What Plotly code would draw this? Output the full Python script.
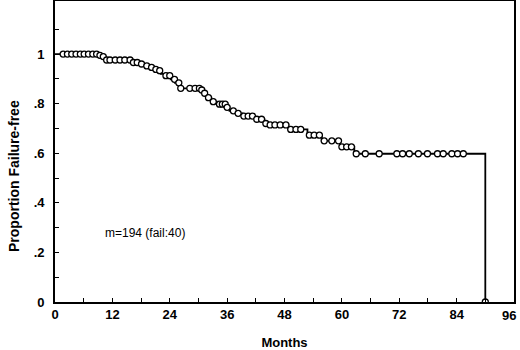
import numpy as np
import plotly.graph_objects as go

# Kaplan-Meier step function: event times and survival after each event
event_times = [0, 9.2, 9.8, 10.5, 16.0, 17.6, 18.6, 19.7, 20.6, 21.6, 22.1, 22.8, 24.2, 25.1,
               26.1, 30.5, 31.0, 31.8, 32.7, 33.8, 35.8, 36.5, 38.0, 39.2, 41.8, 43.8, 44.6,
               48.8, 52.8, 55.8, 59.6, 62.6, 90.0]
surv_values = [1.0, 0.995, 0.99, 0.976, 0.966, 0.96, 0.952, 0.946, 0.938, 0.933, 0.92, 0.913,
               0.898, 0.884, 0.862, 0.855, 0.842, 0.824, 0.808, 0.798, 0.785, 0.771, 0.761,
               0.75, 0.737, 0.72, 0.714, 0.696, 0.673, 0.65, 0.626, 0.598, 0.0]

# censored observation times (circles)
censor_times = [1.7, 2.6, 3.5, 4.4, 5.3, 6.1, 7.0, 7.9, 8.7, 9.4, 10.1, 10.8, 11.5, 12.6, 13.6,
                14.6, 15.7, 16.4, 17.2, 18.1, 19.2, 20.2, 21.1, 21.9, 23.2, 24.0, 25.0, 25.9,
                26.3, 28.2, 29.3, 30.2, 30.7, 31.3, 32.1, 33.1, 34.4, 35.0, 35.6, 36.0, 37.3,
                38.3, 39.5, 40.4, 41.3, 42.2, 43.2, 44.1, 45.0, 46.0, 47.1, 48.3, 49.3, 50.4,
                51.4, 53.2, 54.2, 55.3, 56.3, 57.9, 59.3, 60.0, 61.0, 62.0, 63.0, 64.9, 67.8,
                71.5, 72.7, 74.1, 76.0, 77.9, 80.0, 81.2, 83.0, 84.2, 85.4, 90.0]

x_ticks = list(range(0, 97, 6))
x_text = [str(v) if (v % 12 == 0 and v < 96) else "" for v in x_ticks]
y_ticks = [round(0.1 * i, 1) for i in range(12)]
y_text = ["0", "", ".2", "", ".4", "", ".6", "", ".8", "", "1", ""]

et = np.array(event_times)
sv = np.array(surv_values)
censor_y = [float(sv[np.searchsorted(et, t, side="right") - 1]) for t in censor_times]

fig = go.Figure()
fig.add_trace(go.Scatter(x=event_times, y=surv_values, mode="lines",
                         line=dict(shape="hv", color="black", width=1.8),
                         showlegend=False, hoverinfo="skip"))
fig.add_trace(go.Scatter(x=censor_times, y=censor_y, mode="markers",
                         marker=dict(symbol="circle", size=6, color="white",
                                     line=dict(color="black", width=1.3)),
                         showlegend=False))

fig.add_annotation(x=18.8, y=0.278, text="m=194 (fail:40)", showarrow=False,
                   font=dict(family="Liberation Sans, Arial", size=12, color="black"))

axis_font = dict(family="Liberation Sans, Arial", size=13, color="black", weight="bold")

# last x tick label placed slightly inside the canvas, as in the reference
fig.add_annotation(x=96, y=0, xref="x", yref="paper", text="96", showarrow=False,
                   xanchor="center", yanchor="top", xshift=-5, yshift=-4, font=axis_font)
# y-axis title (offset below plot centre as in the reference)
fig.add_annotation(x=14, y=176, xref="paper", yref="paper", text="Proportion Failure-free",
                   showarrow=False, textangle=-90,
                   font=dict(family="Liberation Sans, Arial", size=14, color="black",
                             weight="bold"))

fig.update_layout(
    width=520, height=350,
    margin=dict(l=55, r=6, t=1, b=48, autoexpand=False),
    plot_bgcolor="white", paper_bgcolor="white",
    xaxis=dict(range=[0, 96], tickvals=x_ticks, ticktext=x_text, ticks="inside",
               ticklen=4, tickwidth=1.2, tickcolor="black", showgrid=False, zeroline=False,
               showline=True, linecolor="black", linewidth=1.6, mirror=True,
               tickfont=axis_font, automargin=False,
               title=dict(text="Months", font=axis_font, standoff=18)),
    yaxis=dict(range=[0, 1.214], tickvals=y_ticks, ticktext=y_text, ticks="inside",
               ticklen=4, tickwidth=1.2, tickcolor="black", showgrid=False, zeroline=False,
               showline=True, linecolor="black", automargin=False,
               linewidth=1.6, mirror=True, tickfont=axis_font, ticklabelstandoff=6),
)

# convert y-axis title annotation position from pixels to paper fraction
plot_h = 350 - 1 - 48
ann = fig.layout.annotations[-1]
ann.x = (14 - 55) / (520 - 55 - 6)
ann.y = (350 - 48 - 176) / plot_h
ann.xanchor = "center"
ann.yanchor = "middle"

fig.write_html("out.html", config={"displayModeBar": False},
               post_script="document.body.style.margin='0';document.body.style.padding='0';")
